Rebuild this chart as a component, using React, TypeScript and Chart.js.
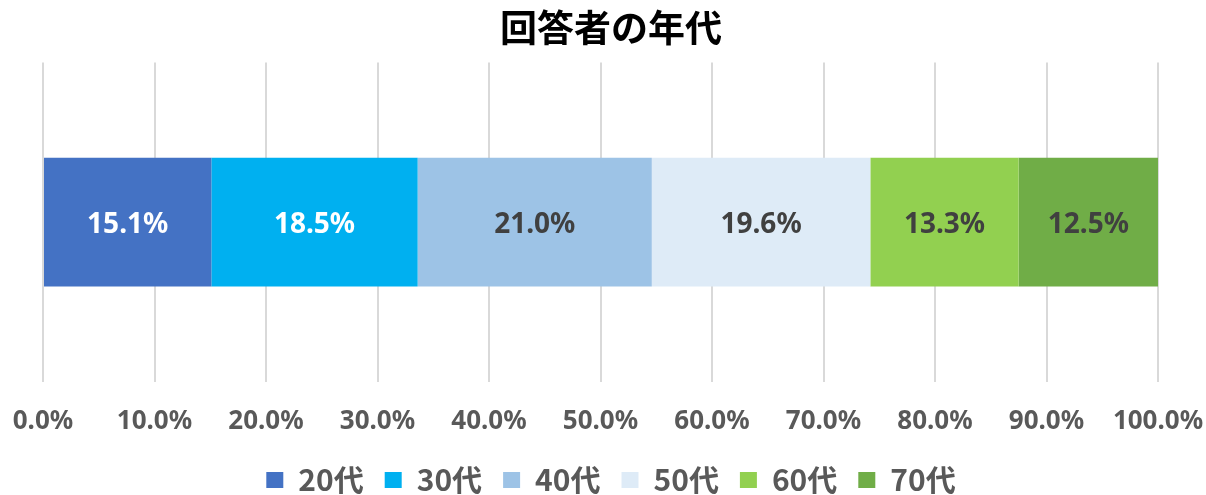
import React, { useEffect, useRef } from "react";
import { Chart, registerables } from "chart.js";

Chart.register(...registerables);

const titleText = "回答者の年代";
const categories = ["回答者"];
const seriesLabels = ["20代", "30代", "40代", "50代", "60代", "70代"];
const seriesValues = [15.1, 18.5, 21.0, 19.6, 13.3, 12.5];
const seriesColors = ["#4472C4", "#00B0F0", "#9DC3E6", "#DEEBF7", "#92D050", "#70AD47"];
const labelColors = ["#FFFFFF", "#FFFFFF", "#404040", "#404040", "#404040", "#404040"];
const xTickMin = 0;
const xTickMax = 100;
const xTickStep = 10;

const dataLabelPlugin = {
  id: "dataLabels",
  afterDatasetsDraw(chart: any) {
    const ctx = chart.ctx;
    ctx.save();
    ctx.font = "bold 28px 'Noto Sans'";
    ctx.textAlign = "center";
    ctx.textBaseline = "middle";
    chart.data.datasets.forEach((ds: any, i: number) => {
      const meta = chart.getDatasetMeta(i);
      meta.data.forEach((el: any, j: number) => {
        const p = el.getProps(["x", "y", "base"], true);
        const cx = (p.x + p.base) / 2;
        ctx.fillStyle = labelColors[i];
        ctx.fillText(Number(ds.data[j]).toFixed(1) + "%", cx, p.y + 3);
      });
    });
    ctx.restore();
  },
};

export default function App() {
  const ref = useRef<HTMLCanvasElement | null>(null);
  useEffect(() => {
    if (!ref.current) return;
    const chart = new Chart(ref.current, {
      type: "bar",
      data: {
        labels: categories,
        datasets: seriesLabels.map((lab, i) => ({
          label: lab,
          data: [seriesValues[i]],
          backgroundColor: seriesColors[i],
          borderWidth: 0,
          barPercentage: 0.403,
          categoryPercentage: 1,
        })),
      },
      options: {
        indexAxis: "y",
        responsive: false,
        animation: false,
        devicePixelRatio: 1,
        layout: { padding: { left: 43, right: 27, top: 0, bottom: -10 } },
        scales: {
          x: {
            stacked: true,
            min: xTickMin,
            max: xTickMax,
            border: { display: false },
            grid: { color: "#D9D9D9", lineWidth: 2, drawTicks: false },
            ticks: {
              stepSize: xTickStep,
              padding: 24,
              color: "#595959",
              font: { family: "'Noto Sans'", size: 26, weight: "bold", lineHeight: 1.2 },
              callback: (v: any) => Number(v).toFixed(1) + "%",
            },
            afterFit: (scale: any) => {
              scale.height = 62;
              scale.paddingLeft = 0;
              scale.paddingRight = 0;
            },
          },
          y: {
            stacked: true,
            position: "right",
            grid: { display: false },
            border: { display: false },
            ticks: { display: false },
            afterFit: (scale: any) => {
              scale.width = 21;
              scale.paddingTop = 0;
              scale.paddingBottom = 0;
            },
          },
        },
        plugins: {
          title: {
            display: true,
            text: titleText,
            color: "#000000",
            font: { family: "'Noto Sans CJK JP'", size: 37, weight: "bold", lineHeight: 1.2 },
            padding: { top: 6, bottom: 12 },
          },
          legend: {
            position: "bottom",
            labels: {
              boxWidth: 17,
              boxHeight: 16,
              padding: 21,
              color: "#595959",
              font: { family: "'Noto Sans CJK JP'", size: 30, weight: "bold" },
            },
          },
          tooltip: { enabled: false },
        },
      },
      plugins: [dataLabelPlugin],
    } as any);
    return () => chart.destroy();
  }, []);
  return (
    <div style={{ position: "absolute", left: 0, top: 0, width: 1206, height: 495, background: "#fff" }}>
      <canvas ref={ref} width={1206} height={495} />
    </div>
  );
}
